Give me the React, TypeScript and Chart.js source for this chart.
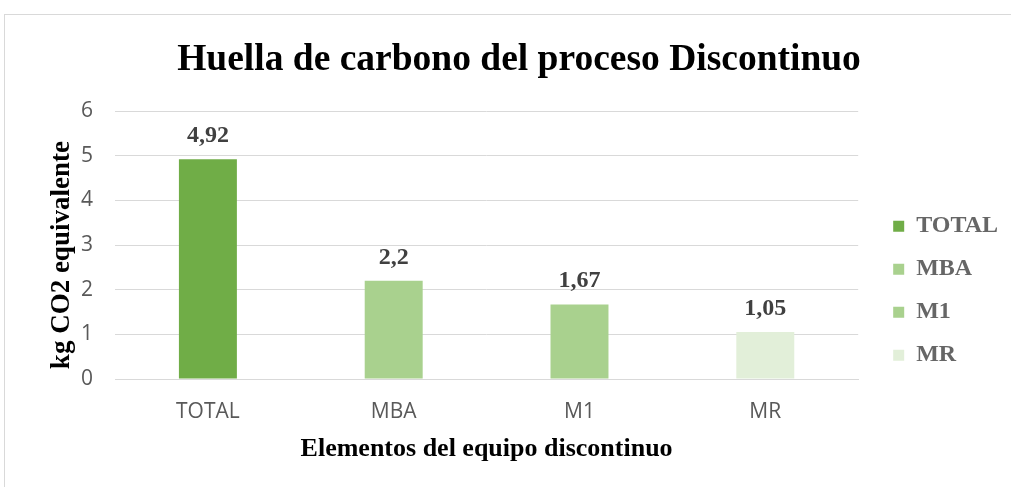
import React, { useEffect, useRef } from "react";
import { Chart, registerables } from "chart.js";

Chart.register(...registerables);

const categories = ["TOTAL", "MBA", "M1", "MR"];
const values = [4.92, 2.2, 1.67, 1.05];
const barColors = ["#70ad47", "#a9d18e", "#a9d18e", "#e2efd9"];
const yTicks = [0, 1, 2, 3, 4, 5, 6];
const titleText = "Huella de carbono del proceso Discontinuo";
const yTitle = "kg CO2 equivalente\u00A0\u00A0\u00A0";
const xTitle = "Elementos del equipo discontinuo";

const SERIF = "'Liberation Serif', 'Times New Roman', serif";
const SANS = "'Open Sans', 'Liberation Sans', sans-serif";

const fmt = (v: number) => String(v).replace(".", ",");

const valueLabels = {
  id: "valueLabels",
  afterDatasetsDraw(chart: any) {
    const ctx = chart.ctx;
    const meta = chart.getDatasetMeta(0);
    ctx.save();
    ctx.font = `bold 24px ${SERIF}`;
    ctx.fillStyle = "#404040";
    ctx.textAlign = "center";
    ctx.textBaseline = "alphabetic";
    meta.data.forEach((el: any, i: number) => {
      ctx.fillText(fmt(values[i]), el.x, el.y - 17);
    });
    ctx.restore();
  },
};

export default function App() {
  const ref = useRef<HTMLCanvasElement>(null);
  useEffect(() => {
    if (!ref.current) return;
    const chart = new Chart(ref.current, {
      type: "bar",
      data: {
        labels: categories,
        datasets: [
          {
            data: values,
            backgroundColor: barColors,
            categoryPercentage: 1,
            barPercentage: 0.312,
            yAxisID: "y",
          },
        ],
      },
      options: {
        responsive: false,
        animation: false,
        layout: { padding: { left: 30, right: 3, top: 30, bottom: 22 } },
        plugins: {
          tooltip: { enabled: false },
          title: {
            display: true,
            text: titleText,
            color: "#000000",
            font: { family: SERIF, size: 37.5, weight: "bold" },
            padding: { top: 8, bottom: 28 },
          },
          legend: {
            position: "right",
            title: { display: true, text: "", padding: { top: 72, bottom: 0 } },
            labels: {
              color: "#595959",
              font: { family: SERIF, size: 24, weight: "bold" },
              boxWidth: 11,
              boxHeight: 11,
              padding: 19,
              generateLabels: () =>
                categories.map((c, i) => ({
                  text: c,
                  fillStyle: barColors[i],
                  strokeStyle: barColors[i],
                  lineWidth: 0,
                  hidden: false,
                  index: i,
                  datasetIndex: 0,
                })),
            },
          },
        },
        scales: {
          x: {
            grid: { display: false, drawTicks: false },
            border: { display: true, color: "#d9d9d9", width: 1 },
            ticks: {
              color: "#595959",
              font: { family: SANS, size: 21 },
              padding: 20,
            },
            title: {
              display: true,
              text: xTitle,
              color: "#000000",
              font: { family: SERIF, size: 26, weight: "bold" },
              padding: { top: 10, bottom: 0 },
            },
            afterFit: (axis: any) => {
              axis.height = 86;
            },
          },
          y: {
            min: 0,
            max: 6,
            afterBuildTicks: (axis: any) => {
              axis.ticks = yTicks.map((v) => ({ value: v }));
            },
            grid: { color: "#d9d9d9", lineWidth: 1, drawTicks: false },
            border: { display: false },
            ticks: {
              color: "#595959",
              font: { family: SANS, size: 21 },
              padding: 22,
            },
            title: {
              display: true,
              text: yTitle,
              color: "#000000",
              font: { family: SERIF, size: 27, weight: "bold" },
              padding: { top: 16, bottom: 3 },
            },
            afterFit: (axis: any) => {
              axis.width = 85;
            },
          },
          gap: {
            position: "right",
            display: true,
            grid: { display: false, drawTicks: false },
            border: { display: false },
            ticks: { display: false },
            afterFit: (axis: any) => {
              axis.width = 16;
            },
          },
        },
      },
      plugins: [valueLabels],
    });
    return () => chart.destroy();
  }, []);

  return (
    <div>
      <div
        style={{
          position: "fixed",
          left: 4,
          top: 14,
          right: -4,
          bottom: -4,
          border: "1px solid #d9d9d9",
          background: "#fff",
        }}
      />
      <canvas
        ref={ref}
        width={1011}
        height={487}
        style={{ position: "fixed", left: 0, top: 0, width: 1011, height: 487 }}
      />
    </div>
  );
}
